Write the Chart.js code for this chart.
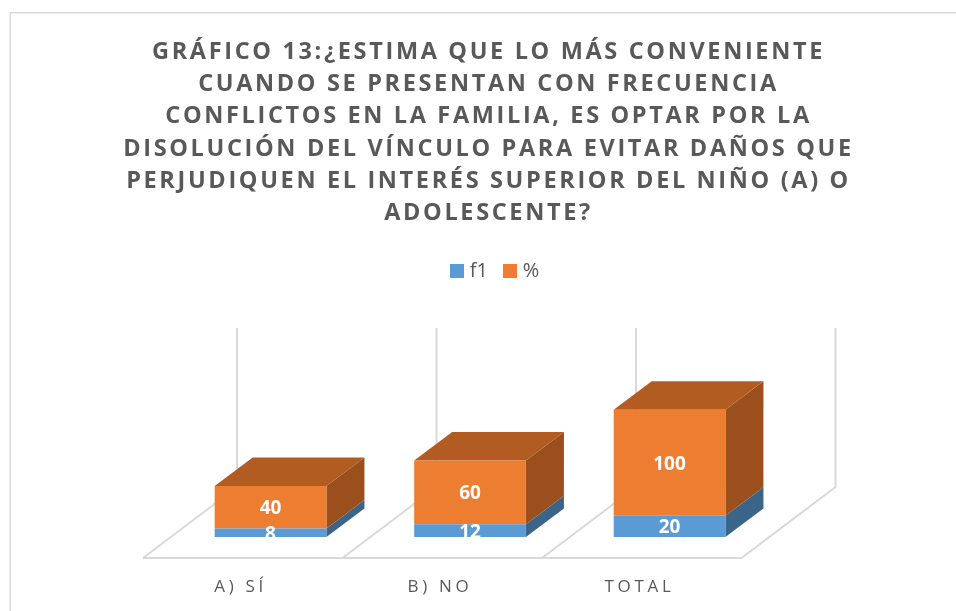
<!DOCTYPE html>
<html lang="es">
<head>
<meta charset="utf-8">
<style>html,body{margin:0;padding:0;background:#fff;overflow:hidden}#w{position:relative;width:956px;height:611px}</style>
<script src="https://cdn.jsdelivr.net/npm/chart.js@4"></script>
</head>
<body>
<div id="w"><canvas id="c" width="956" height="611"></canvas></div>
<script>
const categories = ["A) SÍ", "B) NO", "TOTAL"];
const f1Values = [8, 12, 20];
const pctValues = [40, 60, 100];
const seriesNames = ["f1", "%"];
const titleLines = [
  "GRÁFICO 13:¿ESTIMA QUE LO MÁS CONVENIENTE",
  "CUANDO SE PRESENTAN CON FRECUENCIA",
  "CONFLICTOS EN LA FAMILIA, ES OPTAR POR LA",
  "DISOLUCIÓN DEL VÍNCULO PARA EVITAR DAÑOS QUE",
  "PERJUDIQUEN EL INTERÉS SUPERIOR DEL NIÑO (A) O",
  "ADOLESCENTE?"
];
const yMax = 150;
const FONT = '"Open Sans", sans-serif';
const BAR_DEPTH = {x: 38, y: -28.5};
const FLOOR = {frontX: -27.8, frontY: 21, depthX: 94, depthY: -71};
const GRID = "#d9d9d9", TEXT = "#595959";
const faces = [
  {front: "#5B9BD5", side: "#3A6589", top: "#447BA8"},
  {front: "#ED7D31", side: "#9A4F1C", top: "#B25C22"}
];

function swatch(color) {
  const s = document.createElement("canvas");
  s.width = 14; s.height = 14;
  const g = s.getContext("2d");
  g.fillStyle = color;
  g.fillRect(0, 0, 14, 14);
  return s;
}

const threeD = {
  id: "threeD",
  beforeInit(chart) {
    const lg = chart.legend, fit = lg.fit;
    lg.fit = function () { fit.call(this); this.height += 87; };
    const tb = chart.titleBlock, td = tb.draw;
    tb.draw = function (a) { chart.ctx.letterSpacing = "2.65px"; td.call(this, a); chart.ctx.letterSpacing = "0px"; };
  },
  afterLayout(chart) {
    chart.legend.left += 8; chart.legend.right += 8;
    const sx = chart.scales.x;
    if (!sx._ls) {
      sx._ls = true;
      const dl = sx.drawLabels;
      sx.drawLabels = function (a) { chart.ctx.letterSpacing = "3.7px"; dl.call(this, a); chart.ctx.letterSpacing = "0px"; };
    }
  },
  beforeDraw(chart) {
    const c = chart.ctx;
    c.save();
    c.strokeStyle = GRID; c.lineWidth = 1.5;
    c.strokeRect(10.25, 12.75, 1100, 1100);
    c.restore();
  },
  beforeDatasetsDraw(chart) {
    const c = chart.ctx, sx = chart.scales.x, sy = chart.scales.y;
    const step = sx.getPixelForValue(1) - sx.getPixelForValue(0);
    const x0 = sx.left + FLOOR.frontX, yF = sy.getPixelForValue(0) + FLOOR.frontY;
    const yB = yF + FLOOR.depthY;
    const wallTop = sy.getPixelForValue(yMax) + FLOOR.frontY + FLOOR.depthY;
    c.save();
    c.strokeStyle = GRID; c.lineWidth = 2; c.lineJoin = "miter";
    for (let i = 0; i <= categories.length; i++) {
      const x = x0 + i * step;
      c.beginPath();
      c.moveTo(x, yF);
      c.lineTo(x + FLOOR.depthX, yB);
      c.lineTo(x + FLOOR.depthX, wallTop);
      c.stroke();
    }
    c.beginPath();
    c.moveTo(x0, yF);
    c.lineTo(x0 + categories.length * step, yF);
    c.stroke();
    const n = chart.data.datasets.length;
    for (let d = 0; d < n; d++) {
      chart.getDatasetMeta(d).data.forEach(b => {
        const p = b.getProps(["x", "y", "base", "width"], true);
        const r = p.x + p.width / 2, l = p.x - p.width / 2;
        c.fillStyle = faces[d].side;
        c.beginPath();
        c.moveTo(r, p.y); c.lineTo(r + BAR_DEPTH.x, p.y + BAR_DEPTH.y);
        c.lineTo(r + BAR_DEPTH.x, p.base + BAR_DEPTH.y); c.lineTo(r, p.base);
        c.closePath(); c.fill();
        if (d === n - 1) {
          c.fillStyle = faces[d].top;
          c.beginPath();
          c.moveTo(l, p.y); c.lineTo(r, p.y);
          c.lineTo(r + BAR_DEPTH.x, p.y + BAR_DEPTH.y);
          c.lineTo(l + BAR_DEPTH.x, p.y + BAR_DEPTH.y);
          c.closePath(); c.fill();
        }
      });
    }
    c.restore();
  },
  afterDatasetsDraw(chart) {
    const c = chart.ctx;
    c.save();
    c.fillStyle = "#ffffff";
    c.font = '700 19px ' + FONT;
    c.textAlign = "center";
    c.textBaseline = "middle";
    chart.data.datasets.forEach((ds, d) => {
      chart.getDatasetMeta(d).data.forEach((b, i) => {
        const p = b.getProps(["x", "y", "base"], true);
        c.fillText(String(ds.data[i]), p.x, (p.y + p.base) / 2 + 1.5);
      });
    });
    c.restore();
  }
};

new Chart(document.getElementById("c"), {
  type: "bar",
  data: {
    labels: categories,
    datasets: [
      {label: seriesNames[0], data: f1Values, backgroundColor: faces[0].front, stack: "s", categoryPercentage: 1, barPercentage: 0.56},
      {label: seriesNames[1], data: pctValues, backgroundColor: faces[1].front, stack: "s", categoryPercentage: 1, barPercentage: 0.56}
    ]
  },
  options: {
    responsive: false,
    animation: false,
    events: [],
    layout: {padding: {left: 21, right: 0, top: 0, bottom: 0}},
    plugins: {
      tooltip: {enabled: false},
      title: {
        display: true,
        text: titleLines,
        color: TEXT,
        font: {family: FONT, size: 23.5, weight: "700", lineHeight: 1.375},
        padding: {top: 36, bottom: 12}
      },
      legend: {
        display: true,
        position: "top",
        labels: {
          color: TEXT,
          font: {family: FONT, size: 20},
          usePointStyle: true,
          pointStyleWidth: 6,
          boxHeight: 14,
          padding: 19,
          generateLabels(chart) {
            return Chart.defaults.plugins.legend.labels.generateLabels(chart).map((it, i) => {
              it.pointStyle = swatch(faces[i].front);
              return it;
            });
          }
        }
      }
    },
    scales: {
      x: {
        stacked: true,
        grid: {display: false},
        border: {display: false},
        ticks: {color: TEXT, font: {family: FONT, size: 17}, labelOffset: -30, padding: 32, maxRotation: 0, autoSkip: false},
        afterFit(s) { s.height = 74; }
      },
      y: {
        stacked: true,
        min: 0,
        max: yMax,
        grid: {display: false},
        border: {display: false},
        ticks: {display: false},
        afterFit(s) { s.width = 149.8; }
      },
      yr: {
        position: "right",
        min: 0,
        max: yMax,
        grid: {display: false},
        border: {display: false},
        ticks: {display: false},
        afterFit(s) { s.width = 186.7; }
      }
    }
  },
  plugins: [threeD]
});
</script>
</body>
</html>
